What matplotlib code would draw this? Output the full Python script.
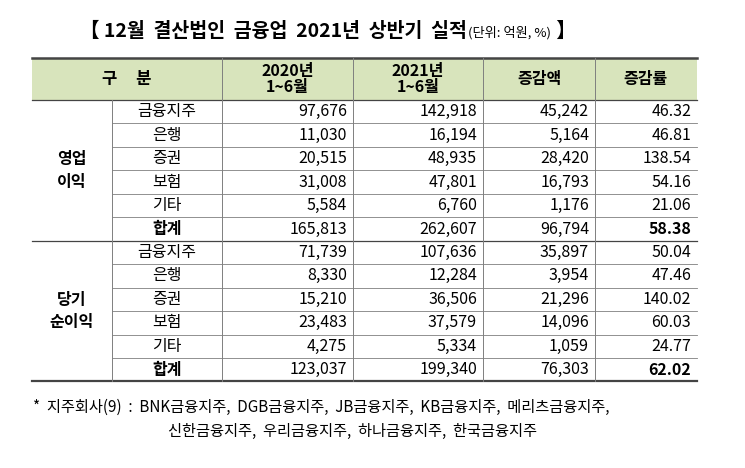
import matplotlib
matplotlib.use("Agg")
import matplotlib.pyplot as plt
from matplotlib.patches import Rectangle

plt.rcParams['font.family'] = ['Noto Sans CJK KR', 'DejaVu Sans']

TITLE = "【 12월  결산법인  금융업  2021년  상반기  실적"
UNIT = "(단위: 억원, %)"
HEADERS = ["구     분", "2020년\n1~6월", "2021년\n1~6월", "증감액", "증감률"]
GROUPS = ["영업\n이익", "당기\n순이익"]
SUBCATS = ["금융지주", "은행", "증권", "보험", "기타", "합계"]
Y2020 = [[97676, 11030, 20515, 31008, 5584, 165813],
         [71739, 8330, 15210, 23483, 4275, 123037]]
Y2021 = [[142918, 16194, 48935, 47801, 6760, 262607],
         [107636, 12284, 36506, 37579, 5334, 199340]]
DIFF = [[45242, 5164, 28420, 16793, 1176, 96794],
        [35897, 3954, 21296, 14096, 1059, 76303]]
RATE = [[46.32, 46.81, 138.54, 54.16, 21.06, 58.38],
        [50.04, 47.46, 140.02, 60.03, 24.77, 62.02]]
NOTE1 = "*  지주회사(9)  :  BNK금융지주,  DGB금융지주,  JB금융지주,  KB금융지주,  메리츠금융지주,"
NOTE2 = "신한금융지주,  우리금융지주,  하나금융지주,  한국금융지주"

fig = plt.figure(figsize=(7.45, 4.68), dpi=100)
ax = fig.add_axes([0, 0, 1, 1])
ax.set_xlim(0, 745)
ax.set_ylim(468, 0)
ax.axis("off")

cols = [32, 112, 222, 353, 483, 595, 697]
top, hbot, rh = 58, 100, 23.45
grid = "#7f7f7f"
fs = 11.5

# title pieces chained one after another
renderer = fig.canvas.get_renderer()
x = 80
for txt, size, weight, dy in [(TITLE, 14, "bold", 0), (UNIT, 9.5, "normal", 2),
                              (" 】", 14, "bold", 0)]:
    t = ax.text(x, 31 + dy, txt, fontsize=size, fontweight=weight, va="center", ha="left")
    bb = t.get_window_extent(renderer).transformed(ax.transData.inverted())
    x = max(bb.x0, bb.x1) + 1

ax.add_patch(Rectangle((cols[0], top), cols[-1] - cols[0], hbot - top,
                       facecolor="#d8e4bc", edgecolor="none"))
ax.plot([cols[0], cols[-1]], [top, top], color="#444444", lw=1.8)
ax.plot([cols[0], cols[-1]], [hbot, hbot], color="#444444", lw=0.9)
for xv in cols[2:-1]:
    ax.plot([xv, xv], [top, hbot], color=grid, lw=0.7)
ax.text((cols[0] + cols[2]) / 2, (top + hbot) / 2, HEADERS[0], fontsize=12,
        fontweight="bold", ha="center", va="center")
for i, h in enumerate(HEADERS[1:]):
    ax.text((cols[i + 2] + cols[i + 3]) / 2, (top + hbot) / 2, h, fontsize=11.5,
            fontweight="bold", ha="center", va="center", linespacing=1.05)

for g in range(2):
    y0 = hbot + g * 6 * rh
    ax.text((cols[0] + cols[1]) / 2, y0 + 3 * rh, GROUPS[g], fontsize=fs,
            fontweight="bold", ha="center", va="center", linespacing=1.5)
    for r in range(6):
        yc = y0 + (r + 0.5) * rh
        bold = "bold" if r == 5 else "normal"
        vals = [f"{Y2020[g][r]:,}", f"{Y2021[g][r]:,}", f"{DIFF[g][r]:,}",
                f"{RATE[g][r]:.2f}"]
        ax.text((cols[1] + cols[2]) / 2, yc, SUBCATS[r], fontsize=fs,
                fontweight=bold, ha="center", va="center")
        for c, v in enumerate(vals):
            ax.text(cols[c + 3] - 6, yc, v, fontsize=fs, ha="right", va="center",
                    fontweight="bold" if (r == 5 and c == 3) else "normal")
        if r < 5:
            ax.plot([cols[1], cols[-1]], [y0 + (r + 1) * rh] * 2, color=grid, lw=0.6)
    yend = y0 + 6 * rh
    ax.plot([cols[0], cols[-1]], [yend, yend], color="#444444",
            lw=0.9 if g == 0 else 1.6)
    for xv in cols[1:-1]:
        ax.plot([xv, xv], [y0, yend], color=grid, lw=0.7)

ax.text(33, 407, NOTE1, fontsize=11, va="center", ha="left")
ax.text(168, 431, NOTE2, fontsize=11, va="center", ha="left")

fig.savefig("out.png", dpi=100)
